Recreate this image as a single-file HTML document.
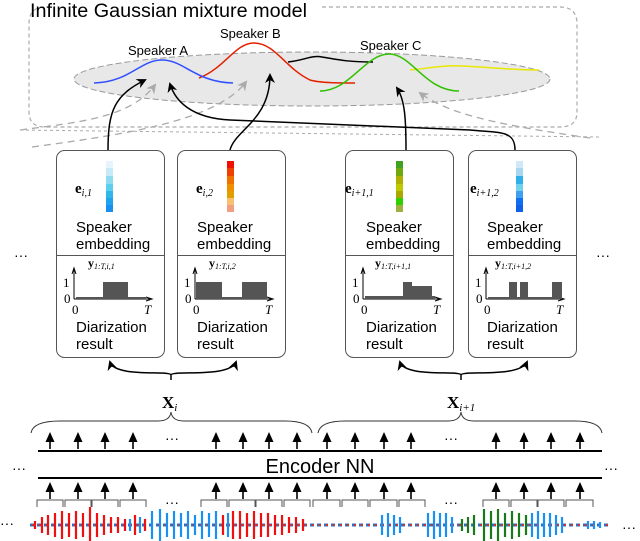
<!DOCTYPE html>
<html><head><meta charset="utf-8"><style>
html,body{margin:0;padding:0;background:#fff;}
svg{display:block;}
text{font-family:"Liberation Sans",sans-serif;}
.m{font-family:"Liberation Serif",serif;}
</style></head><body>
<svg width="640" height="541" viewBox="0 0 640 541" xmlns="http://www.w3.org/2000/svg">
<defs>
<marker id="ab" markerWidth="10" markerHeight="10" refX="8" refY="5" orient="auto" markerUnits="userSpaceOnUse"><path d="M0,0 L10,5 L0,10 L3,5 Z" fill="#000"/></marker>
<marker id="ag" markerWidth="10" markerHeight="10" refX="8" refY="5" orient="auto" markerUnits="userSpaceOnUse"><path d="M0,0 L10,5 L0,10 L3,5 Z" fill="#aaa"/></marker>
<g id="a1" stroke="#000" stroke-width="1.6" fill="#000"><line x1="0" y1="449" x2="0" y2="437"/><path d="M-4.5,442 L0,432 L4.5,442 Z" stroke="none"/></g>
<g id="p1">
<g stroke="#000" stroke-width="1" fill="none">
<line x1="74" y1="299" x2="74" y2="270"/><path d="M72,274 L74,268 L76,274"/>
<line x1="74" y1="299" x2="150" y2="299"/><path d="M146,297 L152,299 L146,301"/>
</g>
<text x="63" y="287" class="m" font-size="13">1</text><text x="64" y="303" class="m" font-size="13">0</text>
<text x="72" y="314" class="m" font-size="13">0</text><text x="144" y="314" class="m" font-size="13" font-style="italic">T</text>
</g>
</defs>
<path d="M322,7 L560,7 Q577,7 577,24 L577,112 Q577,127 560,127 L45,127 Q29,127 29,112 L29,24 Q29,7 45,7 L50,7" fill="none" stroke="#aaa" stroke-width="1.2" stroke-dasharray="4,3"/>
<text x="30" y="17" font-size="19" textLength="277" lengthAdjust="spacingAndGlyphs">Infinite Gaussian mixture model</text>
<ellipse cx="312" cy="79" rx="238" ry="27" fill="#e8e8e8" stroke="#999" stroke-width="1" stroke-dasharray="6,3"/>
<path d="M288,62 C305,60 312,55 322,57 C335,59 345,62 373,62" fill="none" stroke="#000" stroke-width="1.5"/>
<path d="M410,70 C430,68 445,65 461,66 C490,67 510,70 539,70" fill="none" stroke="#e8e800" stroke-width="1.5"/>
<path d="M199,78 C225,68 235,43 254,43 C275,43 285,68 310,80 C320,83 340,83 355,83" fill="none" stroke="#e52000" stroke-width="1.5"/>
<path d="M94,83 C130,82 140,60 162,60 C184,60 195,82 233,83" fill="none" stroke="#3050ff" stroke-width="1.5"/>
<path d="M320,91 C350,91 365,54 389,54 C412,54 425,91 459,91" fill="none" stroke="#30c000" stroke-width="1.5"/>
<text x="128" y="55" font-size="13">Speaker A</text>
<text x="220" y="38" font-size="13">Speaker B</text>
<text x="360" y="50" font-size="13">Speaker C</text>
<path d="M20,130 C80,122 130,118 155,85" fill="none" stroke="#aaa" stroke-width="1.3" stroke-dasharray="7,5" marker-end="url(#ag)"/>
<path d="M32,147 C120,135 215,122 246,82" fill="none" stroke="#aaa" stroke-width="1.3" stroke-dasharray="7,5" marker-end="url(#ag)"/>
<path d="M590,138 C500,125 450,115 420,93" fill="none" stroke="#aaa" stroke-width="1.3" stroke-dasharray="7,5" marker-end="url(#ag)"/>
<path d="M20,130 L600,137" fill="none" stroke="#aaa" stroke-width="1" stroke-dasharray="3,3"/>
<path d="M108,150 C108,110 115,95 145,80" fill="none" stroke="#000" stroke-width="1.5" marker-end="url(#ab)"/>
<path d="M230,150 C235,130 270,120 270,75" fill="none" stroke="#000" stroke-width="1.5" marker-end="url(#ab)"/>
<path d="M515,150 C515,130 500,133 470,130 L230,120 C190,118 175,100 170,84" fill="none" stroke="#000" stroke-width="1.5" marker-end="url(#ab)"/>
<path d="M406,150 C406,120 405,100 397,88" fill="none" stroke="#000" stroke-width="1.5" marker-end="url(#ab)"/>
<g fill="none" stroke="#555" stroke-width="1">
<rect x="56.5" y="150.5" width="108" height="207" rx="8"/>
<rect x="177.5" y="150.5" width="108" height="207" rx="8"/>
<rect x="345.5" y="150.5" width="108" height="207" rx="8"/>
<rect x="468.5" y="150.5" width="108" height="207" rx="8"/>
<line x1="57" y1="255.5" x2="164" y2="255.5"/>
<line x1="178" y1="255.5" x2="285" y2="255.5"/>
<line x1="346" y1="255.5" x2="453" y2="255.5"/>
<line x1="469" y1="255.5" x2="576" y2="255.5"/>
</g>
<g>
<rect x="106" y="161" width="7" height="7" fill="#e8f4fc"/><rect x="106" y="168" width="7" height="8" fill="#c8eaf8"/><rect x="106" y="176" width="7" height="8" fill="#8fdcf0"/><rect x="106" y="184" width="7" height="7" fill="#5ccfee"/><rect x="106" y="191" width="7" height="7" fill="#30b8ea"/><rect x="106" y="198" width="7" height="7" fill="#20a4ee"/><rect x="106" y="205" width="7" height="7" fill="#1890f0"/>
<rect x="227" y="161" width="7" height="7" fill="#f01000"/><rect x="227" y="168" width="7" height="8" fill="#f04000"/><rect x="227" y="176" width="7" height="8" fill="#f07000"/><rect x="227" y="184" width="7" height="7" fill="#f09000"/><rect x="227" y="191" width="7" height="7" fill="#e0a000"/><rect x="227" y="198" width="7" height="7" fill="#f8c070"/><rect x="227" y="205" width="7" height="7" fill="#f0a080"/>
<rect x="396" y="161" width="7" height="7" fill="#40a020"/><rect x="396" y="168" width="7" height="8" fill="#70a810"/><rect x="396" y="176" width="7" height="8" fill="#b0b000"/><rect x="396" y="184" width="7" height="7" fill="#c0c800"/><rect x="396" y="191" width="7" height="7" fill="#a8a800"/><rect x="396" y="198" width="7" height="7" fill="#30d000"/><rect x="396" y="205" width="7" height="7" fill="#a0b040"/>
<rect x="516" y="161" width="7" height="7" fill="#d0e8f8"/><rect x="516" y="168" width="7" height="8" fill="#a8d8f0"/><rect x="516" y="176" width="7" height="8" fill="#30b0e8"/><rect x="516" y="184" width="7" height="7" fill="#70d0f0"/><rect x="516" y="191" width="7" height="7" fill="#40a0f0"/><rect x="516" y="198" width="7" height="7" fill="#1070f0"/><rect x="516" y="205" width="7" height="7" fill="#1060e8"/>
</g>
<g class="m" font-size="15" font-weight="bold">
<text x="75" y="193" class="m">e<tspan font-size="10" font-weight="normal" font-style="italic" dy="3">i,1</tspan></text>
<text x="196" y="193" class="m">e<tspan font-size="10" font-weight="normal" font-style="italic" dy="3">i,2</tspan></text>
<text x="345" y="193" class="m">e<tspan font-size="10" font-weight="normal" font-style="italic" dy="3">i+1,1</tspan></text>
<text x="470" y="193" class="m">e<tspan font-size="10" font-weight="normal" font-style="italic" dy="3">i+1,2</tspan></text>
</g>
<g font-size="15">
<text x="76" y="232">Speaker</text><text x="76" y="249">embedding</text>
<text x="197" y="232">Speaker</text><text x="197" y="249">embedding</text>
<text x="366" y="232">Speaker</text><text x="366" y="249">embedding</text>
<text x="487" y="232">Speaker</text><text x="487" y="249">embedding</text>
<text x="76" y="332">Diarization</text><text x="76" y="349">result</text>
<text x="197" y="332">Diarization</text><text x="197" y="349">result</text>
<text x="366" y="332">Diarization</text><text x="366" y="349">result</text>
<text x="487" y="332">Diarization</text><text x="487" y="349">result</text>
</g>
<g class="m" font-size="12" font-weight="bold">
<text x="88" y="267" class="m">y<tspan font-size="8" font-weight="normal" font-style="italic" dy="2">1:T,i,1</tspan></text>
<text x="209" y="267" class="m">y<tspan font-size="8" font-weight="normal" font-style="italic" dy="2">1:T,i,2</tspan></text>
<text x="375" y="267" class="m">y<tspan font-size="8" font-weight="normal" font-style="italic" dy="2">1:T,i+1,1</tspan></text>
<text x="495" y="267" class="m">y<tspan font-size="8" font-weight="normal" font-style="italic" dy="2">1:T,i+1,2</tspan></text>
</g>
<use href="#p1"/><use href="#p1" x="121"/><use href="#p1" x="289"/><use href="#p1" x="412"/>
<g fill="#555">
<rect x="76" y="297" width="70" height="2"/><rect x="103" y="282" width="25" height="17"/>
<rect x="197" y="297" width="70" height="2"/><rect x="196" y="282" width="26" height="17"/><rect x="242" y="282" width="25" height="17"/>
<rect x="365" y="296" width="70" height="3"/><rect x="403" y="282" width="9" height="17"/><rect x="412" y="286" width="20" height="13"/>
<rect x="488" y="297" width="70" height="2"/><rect x="509" y="282" width="8" height="17"/><rect x="520" y="282" width="8" height="17"/><rect x="552" y="282" width="10" height="17"/>
</g>
<g fill="none" stroke="#000" stroke-width="1.5">
<path d="M171,380 L171,375 C171,370 115,378 110,362" marker-end="url(#ab)"/>
<path d="M171,375 C171,370 230,378 236,362" marker-end="url(#ab)"/>
<path d="M461,380 L461,375 C461,370 405,378 400,362" marker-end="url(#ab)"/>
<path d="M461,375 C461,370 520,378 527,362" marker-end="url(#ab)"/>
</g>
<text x="162" y="408" class="m" font-size="17" font-weight="bold">X<tspan font-size="11" font-weight="normal" font-style="italic" dy="3">i</tspan></text>
<text x="447" y="408" class="m" font-size="17" font-weight="bold">X<tspan font-size="11" font-weight="normal" font-style="italic" dy="3">i+1</tspan></text>
<g fill="none" stroke="#333" stroke-width="1">
<path d="M31,433 Q33,421 60,421 L158,421 Q170,421 171,412 Q172,421 184,421 L285,421 Q310,421 312,433"/>
<path d="M318,433 Q320,421 345,421 L448,421 Q460,421 461,412 Q462,421 474,421 L575,421 Q600,421 602,433"/>
</g>
<line x1="38" y1="451" x2="602" y2="451" stroke="#000" stroke-width="2"/>
<line x1="38" y1="478" x2="602" y2="478" stroke="#000" stroke-width="2"/>
<text x="320" y="473" font-size="20" text-anchor="middle">Encoder NN</text>
<g>
<use href="#a1" x="50"/><use href="#a1" x="78"/><use href="#a1" x="105"/><use href="#a1" x="133"/>
<use href="#a1" x="216"/><use href="#a1" x="243"/><use href="#a1" x="269"/><use href="#a1" x="297"/>
<use href="#a1" x="327"/><use href="#a1" x="355"/><use href="#a1" x="384"/><use href="#a1" x="411"/>
<use href="#a1" x="496"/><use href="#a1" x="524"/><use href="#a1" x="551"/><use href="#a1" x="580"/>
<g transform="translate(0,50)">
<use href="#a1" x="50"/><use href="#a1" x="78"/><use href="#a1" x="105"/><use href="#a1" x="133"/>
<use href="#a1" x="216"/><use href="#a1" x="243"/><use href="#a1" x="269"/><use href="#a1" x="297"/>
<use href="#a1" x="327"/><use href="#a1" x="355"/><use href="#a1" x="384"/><use href="#a1" x="411"/>
<use href="#a1" x="496"/><use href="#a1" x="524"/><use href="#a1" x="551"/><use href="#a1" x="580"/>
</g>
</g>
<g font-size="14" fill="#000">
<text x="165" y="443">···</text><text x="444" y="443">···</text>
<text x="165" y="507">···</text><text x="444" y="507">···</text>
<text x="14" y="260">···</text><text x="596" y="260">···</text>
<text x="12" y="473">···</text><text x="604" y="473">···</text>
<text x="0" y="528">···</text><text x="622" y="532">···</text>
</g>
<g fill="none" stroke="#555" stroke-width="1">
<path d="M37,507 V500 H63 V507 M65,507 V500 H91 V507 M92,507 V500 H118 V507 M120,507 V500 H146 V507"/>
<path d="M201,507 V500 H227 V507 M229,507 V500 H255 V507 M256,507 V500 H282 V507 M284,507 V500 H310 V507"/>
<path d="M313,507 V500 H340 V507 M342,507 V500 H368 V507 M370,507 V500 H397 V507 M399,507 V500 H425 V507"/>
<path d="M483,507 V500 H509 V507 M511,507 V500 H537 V507 M538,507 V500 H564 V507 M566,507 V500 H593 V507"/>
</g>
<line x1="30" y1="525" x2="610" y2="525" stroke="#3070c0" stroke-width="3" stroke-dasharray="4,3"/>
<line x1="32" y1="525" x2="610" y2="525" stroke="#d03030" stroke-width="2" stroke-dasharray="2,5"/>
<g stroke-width="2.2" fill="none">
<path stroke="#f01010" d="M35,521v8M42,517v16M48,515v20M55,513v24M62,511v28M69,513v24M76,511v28M83,513v24M90,507v36M97,513v24M104,515v20M111,517v16M118,517v16M125,519v12M135,515v20M145,519v12M223,515v20M233,511v28M240,511v28M247,513v24M254,511v28M261,513v24M268,513v24M275,515v20M282,515v20M289,517v16M296,517v16M303,519v12"/>
<path stroke="#1a90f0" d="M130,519v12M140,517v16M152,511v28M160,509v32M167,513v24M174,511v28M181,513v24M188,511v28M195,515v20M202,511v28M209,513v24M216,511v28M228,513v24M382,515v20M388,513v24M394,515v20M400,517v16M428,513v24M434,511v28M440,513v24M446,513v24M452,517v16M532,513v24M538,511v28M544,513v24M550,513v24M556,515v20M562,517v16M588,521v8M594,521v8M600,522v6"/>
<path stroke="#1a7a1a" d="M462,519v12M468,517v16M474,515v20M484,509v32M491,511v28M498,509v32M505,513v24M512,511v28M519,513v24M526,515v20"/>
</g>
</svg>
</body></html>
